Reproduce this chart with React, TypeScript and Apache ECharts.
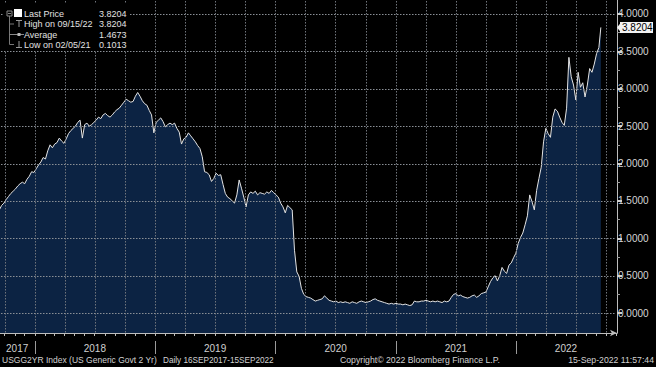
import React, { useEffect, useRef } from "react";
import * as echarts from "echarts";

// ---- data ----
const FIRST_WEEK = "2017-09-15"; // weekly observations (Fridays) from this date
const WEEKLY_YIELD = [
  1.38, 1.44, 1.47, 1.52, 1.56, 1.60, 1.63, 1.66, 1.70, 1.73,
  1.75, 1.73, 1.79, 1.83, 1.89, 1.88, 1.93, 1.98, 2.02, 2.08,
  2.06, 2.17, 2.25, 2.21, 2.26, 2.28, 2.34, 2.30, 2.27, 2.33,
  2.40, 2.44, 2.47, 2.50, 2.55, 2.58, 2.34, 2.52, 2.54, 2.50,
  2.52, 2.55, 2.58, 2.62, 2.60, 2.65, 2.67, 2.64, 2.62, 2.65,
  2.69, 2.72, 2.74, 2.78, 2.82, 2.86, 2.84, 2.82, 2.83, 2.90,
  2.95, 2.90, 2.84, 2.80, 2.78, 2.71, 2.65, 2.41, 2.55, 2.58,
  2.61, 2.56, 2.49, 2.52, 2.54, 2.52, 2.54, 2.47, 2.42, 2.26,
  2.33, 2.35, 2.41, 2.37, 2.33, 2.29, 2.24, 2.20, 2.09, 1.89,
  1.88, 1.85, 1.76, 1.80, 1.87, 1.84, 1.85, 1.72, 1.60, 1.55,
  1.53, 1.50, 1.47, 1.58, 1.78, 1.67, 1.55, 1.42, 1.58, 1.62,
  1.60, 1.63, 1.58, 1.61, 1.60, 1.59, 1.62, 1.60, 1.64, 1.61,
  1.58, 1.55, 1.47, 1.42, 1.34, 1.44, 1.41, 1.38, 0.84, 0.55,
  0.49, 0.33, 0.25, 0.22, 0.21, 0.20, 0.18, 0.16, 0.17, 0.18,
  0.19, 0.23, 0.20, 0.17, 0.16, 0.15, 0.16, 0.14, 0.15, 0.14,
  0.15, 0.14, 0.13, 0.15, 0.14, 0.13, 0.15, 0.16, 0.15, 0.14,
  0.15, 0.16, 0.18, 0.19, 0.17, 0.16, 0.15, 0.14, 0.13, 0.12,
  0.13, 0.12, 0.13, 0.12, 0.12, 0.11, 0.12, 0.11, 0.10, 0.11,
  0.16, 0.15, 0.15, 0.16, 0.16, 0.17, 0.16, 0.15, 0.16, 0.15,
  0.16, 0.15, 0.14, 0.16, 0.15, 0.16, 0.21, 0.25, 0.26, 0.23,
  0.24, 0.22, 0.21, 0.20, 0.21, 0.23, 0.24, 0.21, 0.23, 0.26,
  0.27, 0.28, 0.35, 0.42, 0.47, 0.50, 0.43, 0.50, 0.61, 0.56,
  0.53, 0.64, 0.67, 0.74, 0.80, 0.93, 1.01, 1.07, 1.18, 1.30,
  1.58, 1.49, 1.38, 1.64, 1.80, 1.95, 2.29, 2.47, 2.40, 2.35,
  2.62, 2.73, 2.70, 2.62, 2.55, 2.51, 2.74, 3.42, 3.16, 3.05,
  2.85, 3.22, 3.02, 3.08, 2.89, 3.05, 3.27, 3.22, 3.33, 3.47,
  3.55,
];
const LAST_DATE = "2022-09-15";
const LAST_PRICE = 3.8204;

const LEGEND_ROWS = [
  { label: "Last Price", value: "3.8204" },
  { label: "High on 09/15/22", value: "3.8204" },
  { label: "Average", value: "1.4673" },
  { label: "Low on 02/05/21", value: "0.1013" },
];

const Y_LABELS = [0, 0.5, 1, 1.5, 2, 2.5, 3, 3.5, 4];
const Y_MINOR = [0.25, 0.75, 1.25, 1.75, 2.25, 2.75, 3.25, 3.75];
const Y_MIN = -0.267;
const Y_MAX = 4.187;
const X_MIN = "2017-09-17";
const X_MAX = "2022-11-03";

const YEAR_LABELS = [
  { date: "2017-11-08", year: "2017" },
  { date: "2018-07-02", year: "2018" },
  { date: "2019-07-02", year: "2019" },
  { date: "2020-07-02", year: "2020" },
  { date: "2021-07-02", year: "2021" },
  { date: "2022-06-01", year: "2022" },
];
const YEAR_STARTS = ["2018-01-01", "2019-01-01", "2020-01-01", "2021-01-01", "2022-01-01"];
const QUARTER_LINES = [
  "2017-10-01",
  "2018-01-01", "2018-04-01", "2018-07-01", "2018-10-01",
  "2019-01-01", "2019-04-01", "2019-07-01", "2019-10-01",
  "2020-01-01", "2020-04-01", "2020-07-01", "2020-10-01",
  "2021-01-01", "2021-04-01", "2021-07-01", "2021-10-01",
  "2022-01-01", "2022-04-01", "2022-07-01", "2022-10-01",
];

const FOOTER_LEFT_A = "USGG2YR Index (US Generic Govt 2 Yr)";
const FOOTER_LEFT_B = "Daily 16SEP2017-15SEP2022";
const FOOTER_MID = "Copyright\u00A9 2022 Bloomberg Finance L.P.";
const FOOTER_RIGHT = "15-Sep-2022 11:57:44";

const FONT = "'Liberation Sans', Arial, sans-serif";
const TXT = "#e2e2e2";

function ts(d: string) {
  return Date.parse(d + "T00:00:00Z");
}

export default function App() {
  const ref = useRef<HTMLDivElement>(null);

  useEffect(() => {
    if (!ref.current) return;
    const chart = echarts.init(ref.current, undefined, { renderer: "svg" });

    const start = ts(FIRST_WEEK);
    const DAY = 86400000;
    const data: [number, number][] = WEEKLY_YIELD.map((v, i) => [start + i * 7 * DAY, v]);
    data.push([ts(LAST_DATE), LAST_PRICE]);

    const monthTicks: number[] = [];
    for (let y = 2017; y <= 2022; y++) {
      for (let m = 0; m < 12; m++) {
        const t = Date.UTC(y, m, 1);
        if (t >= ts(X_MIN) && t <= ts(X_MAX)) monthTicks.push(t);
      }
    }

    const legendGraphics: any[] = [
      { type: "rect", shape: { x: 3, y: 4, width: 126, height: 47 }, style: { fill: "#000" }, z: 10 },
      { type: "line", shape: { x1: 9.5, y1: 16, x2: 9.5, y2: 44.5 }, style: { stroke: "#777", lineWidth: 1 }, z: 11 },
      { type: "rect", shape: { x: 7, y: 11, width: 5, height: 5 }, style: { fill: "#000", stroke: "#888", lineWidth: 1 }, z: 11 },
      { type: "line", shape: { x1: 8, y1: 13.5, x2: 11, y2: 13.5 }, style: { stroke: "#888", lineWidth: 1 }, z: 11 },
      { type: "rect", shape: { x: 14, y: 9, width: 8, height: 8 }, style: { fill: "#ffffff" }, z: 11 },
      { type: "line", shape: { x1: 9.5, y1: 24, x2: 14, y2: 24 }, style: { stroke: "#777", lineWidth: 1 }, z: 11 },
      { type: "line", shape: { x1: 16, y1: 20.5, x2: 22, y2: 20.5 }, style: { stroke: "#999", lineWidth: 1 }, z: 11 },
      { type: "line", shape: { x1: 19, y1: 20.5, x2: 19, y2: 27 }, style: { stroke: "#999", lineWidth: 1 }, z: 11 },
      { type: "line", shape: { x1: 9.5, y1: 34.5, x2: 24, y2: 34.5 }, style: { stroke: "#888", lineWidth: 1 }, z: 11 },
      { type: "rect", shape: { x: 17.5, y: 33, width: 3, height: 3 }, style: { fill: "#bbb" }, z: 11 },
      { type: "line", shape: { x1: 9.5, y1: 44.5, x2: 14, y2: 44.5 }, style: { stroke: "#777", lineWidth: 1 }, z: 11 },
      { type: "line", shape: { x1: 19, y1: 41, x2: 19, y2: 47.5 }, style: { stroke: "#999", lineWidth: 1 }, z: 11 },
      { type: "line", shape: { x1: 16, y1: 47.5, x2: 22, y2: 47.5 }, style: { stroke: "#999", lineWidth: 1 }, z: 11 },
    ];
    const rowY = [13.5, 24, 34.5, 44.5];
    LEGEND_ROWS.forEach((r, i) => {
      legendGraphics.push({
        type: "text", x: 24, y: rowY[i], z: 11,
        style: { text: r.label, fill: TXT, font: `9px ${FONT}`, textVerticalAlign: "middle" },
      });
      legendGraphics.push({
        type: "text", x: 99, y: rowY[i], z: 11,
        style: { text: r.value, fill: TXT, font: `9px ${FONT}`, textVerticalAlign: "middle" },
      });
    });

    const footStyle = { fill: "#d2d2d2", textVerticalAlign: "middle" };
    const footer: any[] = [
      { type: "text", x: 2, y: 360, style: { ...footStyle, text: FOOTER_LEFT_A, font: `8.5px ${FONT}` } },
      { type: "text", x: 163, y: 360, style: { ...footStyle, text: FOOTER_LEFT_B, font: `8.2px ${FONT}` } },
      { type: "text", x: 340, y: 360, style: { ...footStyle, text: FOOTER_MID, font: `8.7px ${FONT}` } },
      { type: "text", x: 654, y: 360, style: { ...footStyle, text: FOOTER_RIGHT, font: `8.7px ${FONT}`, textAlign: "right" } },
    ];

    const option: any = {
      animation: false,
      backgroundColor: "#000",
      grid: { left: 0, right: 39, top: 0, bottom: 34, containLabel: false },
      xAxis: {
        type: "value",
        min: ts(X_MIN),
        max: ts(X_MAX),
        axisLine: { show: true, onZero: false, lineStyle: { color: "#bdbdbd", width: 1 }, symbol: ["none", "arrow"], symbolSize: [5, 7] },
        axisTick: { show: true, customValues: monthTicks, length: 3, lineStyle: { color: "#bdbdbd" } },
        axisLabel: {
          show: true,
          customValues: YEAR_LABELS.map((y) => ts(y.date)),
          formatter: (v: number) => {
            const f = YEAR_LABELS.find((y) => Math.abs(ts(y.date) - v) < DAY);
            return f ? f.year : "";
          },
          color: "#d0d0d0",
          fontSize: 10,
          fontFamily: FONT,
          margin: 10,
        },
        splitLine: { show: false },
      },
      yAxis: [
        {
          type: "value",
          position: "right",
          min: Y_MIN,
          max: Y_MAX,
          axisLine: { show: true, onZero: false, lineStyle: { color: "#bdbdbd", width: 1 } },
          axisTick: { show: true, customValues: Y_LABELS, length: 5, lineStyle: { color: "#d0d0d0", width: 2 } },
          axisLabel: {
            show: true,
            customValues: Y_LABELS,
            formatter: (v: number) => v.toFixed(4),
            color: "#d6d6d6",
            fontSize: 10,
            fontFamily: FONT,
            margin: 1,
          },
          splitLine: { show: false },
        },
        {
          type: "value",
          position: "right",
          min: Y_MIN,
          max: Y_MAX,
          axisLine: { show: false, onZero: false },
          axisTick: { show: true, customValues: Y_MINOR, length: 3, lineStyle: { color: "#9a9a9a" } },
          axisLabel: { show: false },
          splitLine: { show: false },
        },
      ],
      series: [
        {
          type: "line",
          data,
          symbol: "none",
          showSymbol: false,
          lineStyle: { color: "#e4e4e4", width: 1 },
          areaStyle: { color: "#0c2343", opacity: 1, origin: "start" },
          z: 2,
        },
        {
          // year separators below the time axis
          type: "custom",
          silent: true,
          z: 3,
          data: YEAR_STARTS.map((d) => [ts(d), Y_MIN]),
          renderItem: (_p: any, api: any) => {
            const a = api.coord([api.value(0), Y_MIN]);
            const x = Math.round(a[0]) + 0.5;
            return {
              type: "line",
              shape: { x1: x, y1: a[1] + 8, x2: x, y2: a[1] + 21 },
              style: { stroke: "#9a9a9a", lineWidth: 1 },
            };
          },
        },
        {
          // last price tag on the value axis
          type: "custom",
          silent: true,
          z: 5,
          data: [[ts(LAST_DATE), LAST_PRICE]],
          renderItem: (_p: any, api: any) => {
            const v = api.value(1);
            const a = api.coord([ts(X_MAX), v]);
            const x = a[0] + 2;
            const y = a[1];
            return {
              type: "group",
              children: [
                {
                  type: "polygon",
                  shape: { points: [[x - 2, y], [x + 2, y - 5], [x + 2, y + 5]] },
                  style: { fill: "#f2f2f2" },
                },
                {
                  type: "rect",
                  shape: { x: x + 1, y: y - 5.5, width: 33, height: 11 },
                  style: { fill: "#f2f2f2" },
                },
                {
                  type: "text",
                  x: x + 3,
                  y: y + 0.5,
                  style: {
                    text: v.toFixed(4),
                    fill: "#000",
                    font: `10px ${FONT}`,
                    textVerticalAlign: "middle",
                  },
                },
              ],
            };
          },
        },
      ],
      graphic: [...legendGraphics, ...footer],
    };

    chart.setOption(option);

    // dotted grid lines over the area, positioned through the chart's own scales
    const px = (t: number, v: number): number[] =>
      chart.convertToPixel({ gridIndex: 0 } as any, [t, v]) as any;
    const gridDots: any[] = [];
    const x0 = px(ts(X_MIN), 0)[0];
    const x1 = px(ts(X_MAX), 0)[0];
    const yTop = px(ts(X_MIN), Y_MAX)[1];
    const yBot = px(ts(X_MIN), Y_MIN)[1];
    Y_LABELS.forEach((v) => {
      const y = Math.round(px(ts(X_MIN), v)[1]);
      for (let x = Math.round(x0) + 1; x < x1 - 1; x += 3) {
        gridDots.push({ type: "rect", z: 5, silent: true, shape: { x, y, width: 1.5, height: 1 }, style: { fill: "#8a8f96" } });
      }
    });
    QUARTER_LINES.forEach((d) => {
      const x = Math.round(px(ts(d), 0)[0]);
      for (let y = Math.round(yTop) + 1; y < yBot - 1; y += 3) {
        gridDots.push({ type: "rect", z: 5, silent: true, shape: { x, y, width: 1, height: 1.5 }, style: { fill: "#70757c" } });
      }
    });

    chart.setOption({ graphic: [...legendGraphics, ...footer, ...gridDots] });

    return () => chart.dispose();
  }, []);

  return (
    <div
      ref={ref}
      style={{ position: "fixed", left: 0, top: 0, width: 656, height: 367, background: "#000" }}
    />
  );
}
